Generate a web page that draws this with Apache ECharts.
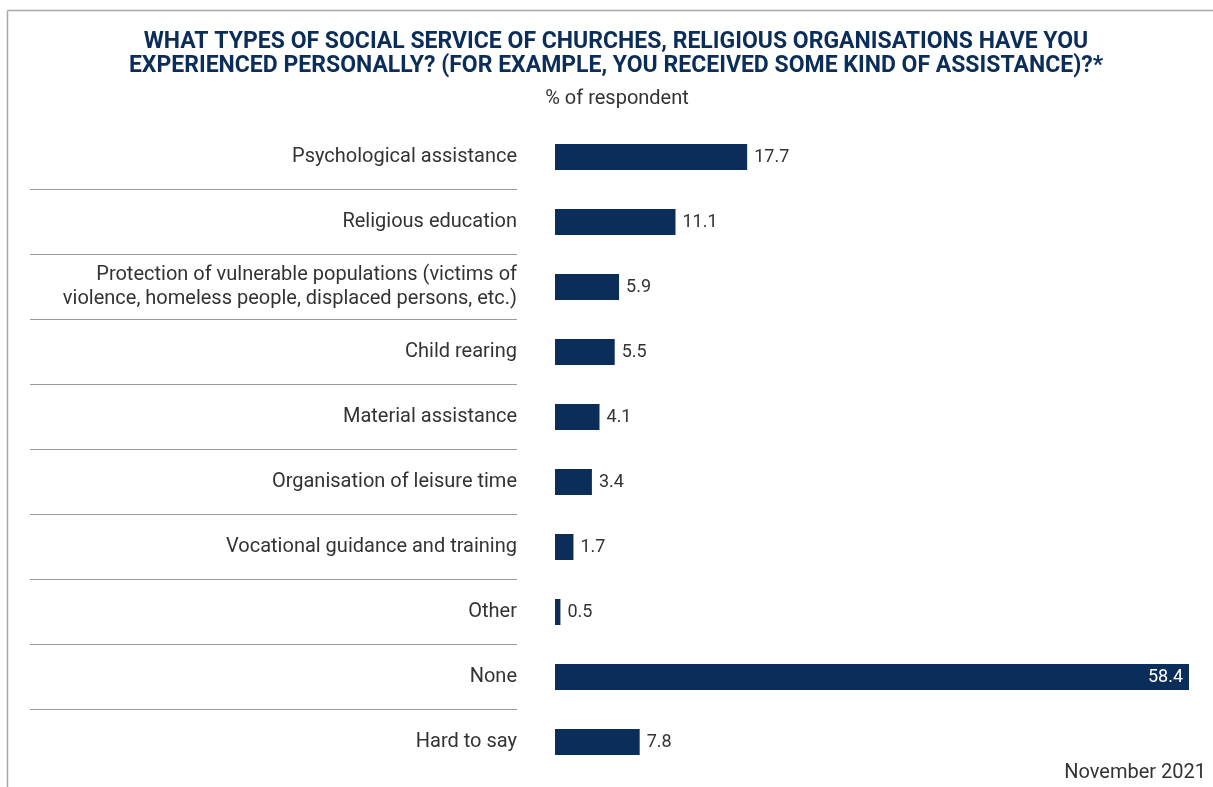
<!DOCTYPE html>
<html><head><meta charset="utf-8">
<script src="https://cdn.jsdelivr.net/npm/echarts@6/dist/echarts.min.js"></script>
<style>html,body{margin:0;padding:0;background:#fff}#c{width:1213px;height:787px}</style>
</head><body><div id="c"></div>
<script>
const categories = [
  "Psychological assistance",
  "Religious education",
  "Protection of vulnerable populations (victims of\nviolence, homeless people, displaced persons, etc.)",
  "Child rearing",
  "Material assistance",
  "Organisation of leisure time",
  "Vocational guidance and training",
  "Other",
  "None",
  "Hard to say"
];
const values = [17.7, 11.1, 5.9, 5.5, 4.1, 3.4, 1.7, 0.5, 58.4, 7.8];
const titleLines = "WHAT TYPES OF SOCIAL SERVICE OF CHURCHES, RELIGIOUS ORGANISATIONS HAVE YOU\nEXPERIENCED PERSONALLY? (FOR EXAMPLE, YOU RECEIVED SOME KIND OF ASSISTANCE)?*";
const subtitle = "% of respondent";
const dateNote = "November 2021";

const navy = "#0b2d59";
const textCol = "#333333";
const font = "Roboto";
const maxVal = Math.max(...values);

const chart = echarts.init(document.getElementById('c'));
chart.setOption({
  animation: false,
  title: [{
    text: titleLines, left: 611, top: 25, textAlign: 'center',
    textStyle: {fontFamily: font, fontWeight: 'bold', fontSize: 23, color: navy, lineHeight: 24}
  }, {
    text: subtitle, left: 612, top: 84, textAlign: 'center',
    textStyle: {fontFamily: font, fontWeight: 'normal', fontSize: 20, color: textCol}
  }, {
    text: dateNote, right: 2, top: 758,
    textStyle: {fontFamily: font, fontWeight: 'normal', fontSize: 20, color: textCol}
  }],
  grid: {left: 555, right: 24, top: 124.5, height: 650, containLabel: false},
  xAxis: {type: 'value', min: 0, max: maxVal, show: false},
  yAxis: {
    type: 'category', data: categories, inverse: true,
    axisLine: {show: false}, axisTick: {show: false}, splitLine: {show: false},
    axisLabel: {margin: 38, fontFamily: font, fontSize: 20, color: textCol, lineHeight: 24, align: 'right'}
  },
  series: [{
    type: 'bar', data: values.map(v => ({
      value: v,
      label: v === maxVal ? {position: 'insideRight', color: '#fff', distance: 6} : {}
    })),
    barWidth: 26, itemStyle: {color: navy},
    label: {show: true, position: 'right', distance: 7, fontFamily: font, fontSize: 18, color: textCol,
      formatter: p => p.value.toFixed(1)}
  }]
});

// frame and separators derived from axis scale
const g = [];
g.push({type: 'line', shape: {x1: 7.5, y1: 10.5, x2: 1213, y2: 10.5}, style: {stroke: '#a8a8a8', lineWidth: 1.5}});
g.push({type: 'line', shape: {x1: 7.5, y1: 10.5, x2: 7.5, y2: 787}, style: {stroke: '#a8a8a8', lineWidth: 1.5}});
for (let i = 0; i < categories.length - 1; i++) {
  const y1 = chart.convertToPixel({yAxisIndex: 0}, categories[i]);
  const y2 = chart.convertToPixel({yAxisIndex: 0}, categories[i + 1]);
  const y = Math.round((y1 + y2) / 2) - 0.5;
  g.push({type: 'line', shape: {x1: 30, y1: y, x2: 517, y2: y}, style: {stroke: '#9a9a9a', lineWidth: 1}});
}
chart.setOption({graphic: g});
</script>
</body></html>
